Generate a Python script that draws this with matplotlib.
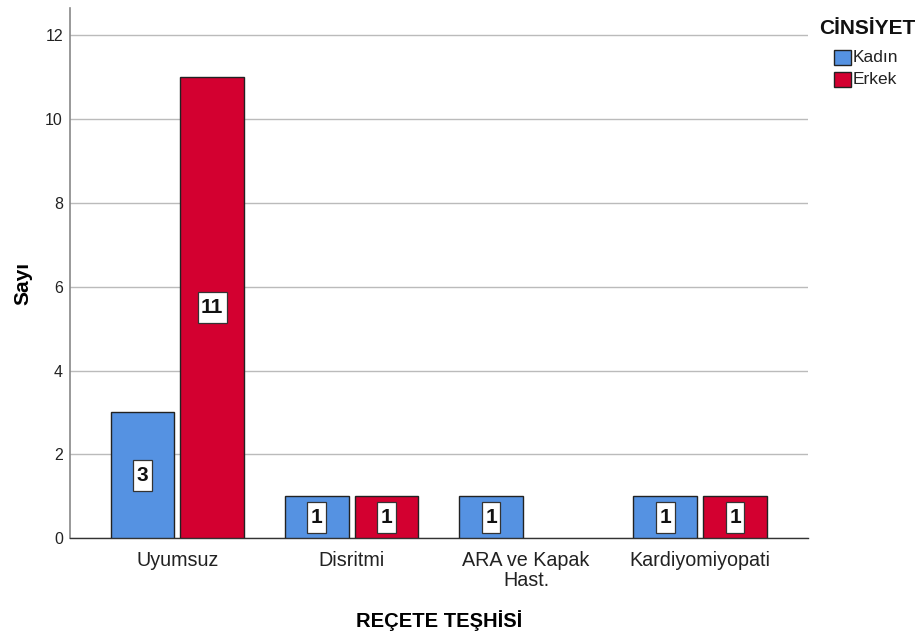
import numpy as np
import matplotlib.pyplot as plt
from matplotlib.patches import Rectangle

plt.rcParams['font.family'] = ['Liberation Sans', 'DejaVu Sans']

# counts per diagnosis and gender
categories = ["Uyumsuz", "Disritmi", "ARA ve Kapak\nHast.", "Kardiyomiyopati"]
kadin = [3, 1, 1, 1]
erkek = [11, 1, 0, 1]
groups = ["Kadın", "Erkek"]
colors = ["#5592E2", "#D30030"]

W, H = 920, 637

def px(x, y):
    # pixel position (from top-left) -> figure fraction
    return x / W, (H - y) / H

def main():
    fig = plt.figure(figsize=(W / 100, H / 100), dpi=100)
    ax = fig.add_axes([0.076, 0.155, 0.802, 0.832])

    x = np.arange(len(categories))
    width = 0.366
    offset = 0.2

    labels = []
    for vals, dx, col in [(kadin, -offset, colors[0]), (erkek, offset, colors[1])]:
        for xi, v in zip(x, vals):
            if v == 0:
                continue
            ax.bar(xi + dx, v, width=width, color=col, edgecolor="#222222",
                   linewidth=1.0, zorder=3)
            t = ax.text(xi + dx, v / 2, str(v), ha="center", va="center",
                        fontsize=15, fontweight="bold", color="#111111", zorder=5)
            labels.append(t)

    ax.set_xlim(-0.617, 3.617)
    ax.set_ylim(0, 12.64)
    ax.set_yticks(range(0, 13, 2))
    ax.set_xticks(x)
    ax.set_xticklabels(categories, fontsize=14.2, linespacing=1.1, color="#222222")
    ax.tick_params(axis="y", labelsize=11.5, length=0, pad=5, labelcolor="#222222")
    ax.tick_params(axis="x", length=0, pad=9)
    ax.yaxis.grid(True, color="#BBBBBB", linewidth=1.0, zorder=0)

    for s in ["top", "right"]:
        ax.spines[s].set_visible(False)
    ax.spines["left"].set_color("#888888")
    ax.spines["left"].set_linewidth(1.2)
    ax.spines["bottom"].set_color("#333333")
    ax.spines["bottom"].set_linewidth(1.0)

    ax.set_ylabel("Sayı", fontsize=15, fontweight="bold", labelpad=9)
    ax.yaxis.label.set_y(0.481)
    ax.set_xlabel("REÇETE TEŞHİSİ", fontsize=14.5, fontweight="bold", labelpad=14)

    # white boxes behind the value labels, sized from the rendered text
    fig.canvas.draw()
    for t in labels:
        bb = t.get_window_extent()
        cx, cy = (bb.x0 + bb.x1) / 2, (bb.y0 + bb.y1) / 2
        bw, bh = bb.width + 7, 31
        fig.patches.append(Rectangle((cx - bw / 2, cy - bh / 2), bw, bh,
                                     transform=None, facecolor="white",
                                     edgecolor="#333333", linewidth=0.9, zorder=4))
        # move label to figure level so it stays above the box
        t.remove()
        fig.text(cx / W, cy / H, t.get_text(), ha="center", va="center",
                 fontsize=15, fontweight="bold", color="#111111", zorder=6)

    # legend
    fig.text(*px(819, 28), "CİNSİYET", fontsize=15, fontweight="bold",
             color="#111111", ha="left", va="center")
    for i, (g, c) in enumerate(zip(groups, colors)):
        top = 50 + i * 22
        x0, y0 = px(834, top + 15)
        fig.patches.append(Rectangle((x0, y0), 17 / W, 15 / H, transform=fig.transFigure,
                                     facecolor=c, edgecolor="#222222", linewidth=1.0))
        fig.text(*px(853, top + 8), g, fontsize=12.5, color="#222222",
                 ha="left", va="center")

    fig.savefig("out.png", dpi=100)

if __name__ == "__main__":
    main()
